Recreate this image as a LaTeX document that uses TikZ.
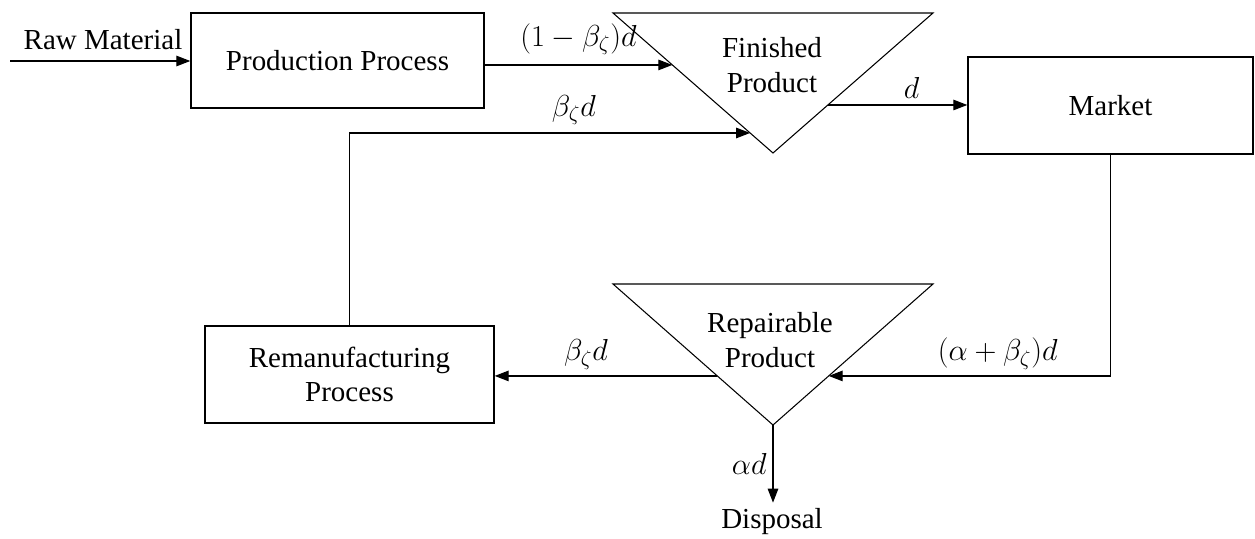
\documentclass[tikz,border=0pt]{standalone}
\usepackage{fontspec}
\setmainfont{Liberation Serif}
\usetikzlibrary{arrows.meta,positioning,calc}

\begin{document}
\begin{tikzpicture}[
            x=0.02cm, y=-0.02cm,
            >={Triangle[length=8pt,width=6pt]},
            every node/.style={font=\fontsize{16.5}{19.5}\selectfont},
            procbox/.style={draw, line width=0.8pt, rectangle, align=center},
            flow/.style={->, line width=0.7pt},
            stock/.style={draw, line width=0.6pt, line join=miter}
        ]
            \useasboundingbox (0,0) rectangle (1255,538);

            % processes
            \node[procbox, minimum width=5.86cm, minimum height=1.9cm] (pp) at (337.5,60.5) {Production Process};
            \node[procbox, minimum width=5.7cm, minimum height=1.94cm] (mk) at (1110.5,105.5) {Market};
            \node[procbox, minimum width=5.78cm, minimum height=1.94cm] (rm) at (349.5,374.5) {Remanufacturing\\Process};

            % stocks (inverted triangles)
            \coordinate (finL) at (613,13);
            \coordinate (finR) at (933,13);
            \coordinate (finA) at (773,153);
            \draw[stock] (finL) -- (finR) -- (finA) -- cycle;
            \node[align=center] (fin) at (772,65) {Finished\\Product};

            \coordinate (repL) at (613,284);
            \coordinate (repR) at (933,284);
            \coordinate (repA) at (773,425);
            \draw[stock] (repL) -- (repR) -- (repA) -- cycle;
            \node[align=center] (rep) at (770,340) {Repairable\\Product};

            \node (raw) at (103,40) {Raw Material};
            \coordinate (rawin) at (10,61);
            \node (disp) at (772,522) {Disposal};

            % where the flows meet the triangle sides
            \coordinate (finIn)  at ($(finL)!0.371!(finA)$);
            \coordinate (finRet) at ($(finL)!0.857!(finA)$);
            \coordinate (finOut) at ($(finR)!0.657!(finA)$);
            \coordinate (repIn)  at ($(repR)!0.652!(repA)$);
            \coordinate (repOut) at ($(repL)!0.652!(repA)$);

            \draw[flow] (rawin) -- (rawin -| pp.west);
            \draw[flow] (finIn -| pp.east) -- node[above=2pt] {$(1-\beta_\zeta)d$} (finIn);
            \draw[flow] (rm.north) |- node[above=1pt, pos=0.78] {$\beta_\zeta d$} (finRet);
            \draw[flow] (finOut) -- node[above, pos=0.6] {$d$} (finOut -| mk.west);
            \draw[flow] (mk.south) |- node[above, pos=0.7] {$(\alpha+\beta_\zeta)d$} (repIn);
            \draw[flow] (repOut) -- node[above, pos=0.59] {$\beta_\zeta d$} (repOut -| rm.east);
            \draw[flow] (repA) -- node[left] {$\alpha d$} (repA |- disp.north);
        \end{tikzpicture}
\end{document}
